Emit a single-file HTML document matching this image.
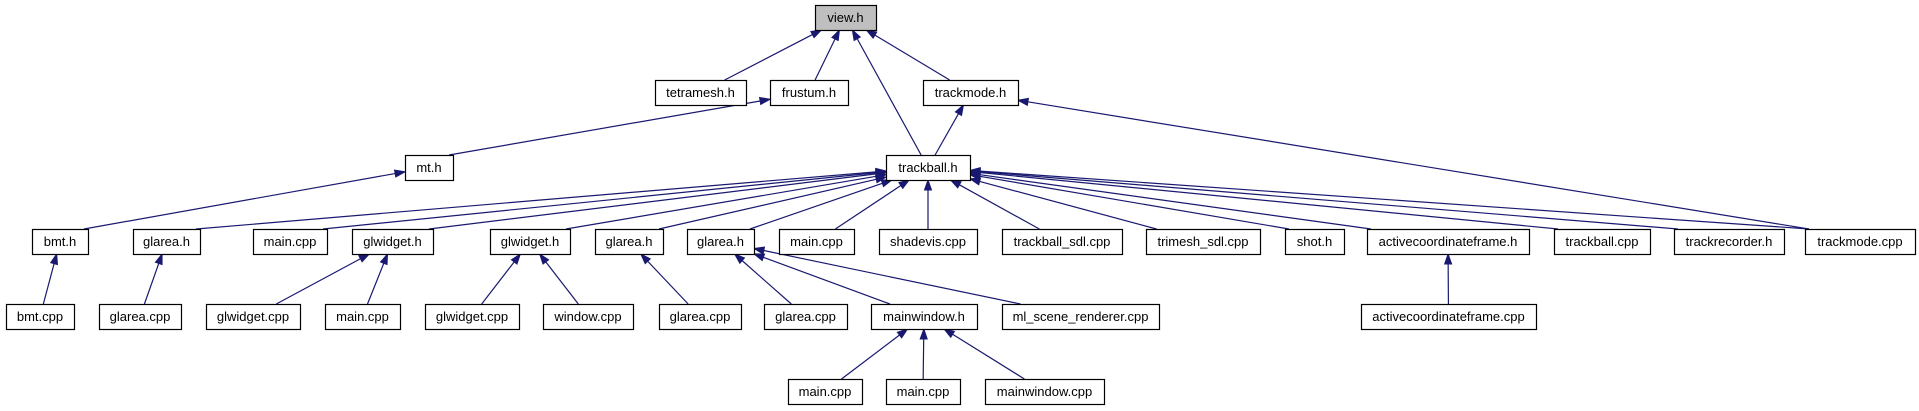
<!DOCTYPE html>
<html><head><meta charset="utf-8"><style>
html,body{margin:0;padding:0;background:#fff;width:1919px;height:411px;overflow:hidden}
svg{display:block}
text{font-family:"Liberation Sans",Arial,sans-serif;font-size:13px;fill:#000}
</style></head><body>
<svg id="g" width="1919" height="411" xmlns="http://www.w3.org/2000/svg"></svg>
<script>
var R=[5,80,155,229,304,379],H=25;
var N={
view:[815,876,0,"view.h",1],
tetra:[655,746,1,"tetramesh.h"],
frustum:[770,848,1,"frustum.h"],
tmh:[923,1018,1,"trackmode.h"],
mt:[405,453,2,"mt.h"],
tb:[886,970,2,"trackball.h"],
bmth:[32,88,3,"bmt.h"],
ga1:[133,200,3,"glarea.h"],
mc1:[253,327,3,"main.cpp"],
gw1:[352,433,3,"glwidget.h"],
gw2:[490,570,3,"glwidget.h"],
ga2:[595,663,3,"glarea.h"],
ga3:[687,754,3,"glarea.h"],
mc2:[779,854,3,"main.cpp"],
shade:[879,977,3,"shadevis.cpp"],
tsdl:[1002,1122,3,"trackball_sdl.cpp"],
trsdl:[1146,1260,3,"trimesh_sdl.cpp"],
shot:[1285,1344,3,"shot.h"],
acfh:[1367,1529,3,"activecoordinateframe.h"],
tbc:[1554,1650,3,"trackball.cpp"],
trec:[1674,1784,3,"trackrecorder.h"],
tmc:[1805,1915,3,"trackmode.cpp"],
bmtc:[6,74,4,"bmt.cpp"],
gac1:[99,181,4,"glarea.cpp"],
gwc1:[206,300,4,"glwidget.cpp"],
mc3:[325,400,4,"main.cpp"],
gwc2:[425,519,4,"glwidget.cpp"],
win:[543,633,4,"window.cpp"],
gac2:[659,741,4,"glarea.cpp"],
gac3:[764,847,4,"glarea.cpp"],
mwh:[871,977,4,"mainwindow.h"],
mlsr:[1002,1159,4,"ml_scene_renderer.cpp"],
acfc:[1361,1536,4,"activecoordinateframe.cpp"],
mc4:[788,862,5,"main.cpp"],
mc5:[886,960,5,"main.cpp"],
mwc:[985,1104,5,"mainwindow.cpp"]
};
var E=[["tetra","view"],["frustum","view"],["tb","view"],["tmh","view"],["mt","frustum"],["bmth","mt"],["tb","tmh"],["tmc","tmh"],
["ga1","tb"],["mc1","tb"],["gw1","tb"],["gw2","tb"],["ga2","tb"],["ga3","tb"],["mc2","tb"],["shade","tb"],["tsdl","tb"],["trsdl","tb"],["shot","tb"],["acfh","tb"],["tbc","tb"],["trec","tb"],["tmc","tb"],
["bmtc","bmth"],["gac1","ga1"],["gwc1","gw1"],["mc3","gw1"],["gwc2","gw2"],["win","gw2"],["gac2","ga2"],["gac3","ga3"],["mwh","ga3"],["mlsr","ga3"],["acfc","acfh"],["mc4","mwh"],["mc5","mwh"],["mwc","mwh"]];
function box(k){var n=N[k];return {x1:n[0],x2:n[1],y1:R[n[2]],y2:R[n[2]]+H,cx:(n[0]+n[1])/2,cy:R[n[2]]+H/2};}
function clip(b,dx,dy){var tx=dx?((b.x2-b.x1)/2)/Math.abs(dx):1e9,ty=dy?(H/2)/Math.abs(dy):1e9;return Math.min(tx,ty);}
var s='';
E.forEach(function(e){var c=box(e[0]),p=box(e[1]);
var dx=p.cx-c.cx,dy=p.cy-c.cy;
// start on child's top edge
var sy=c.y1,sx=c.cx+dx*(H/2)/Math.abs(dy);
sx=Math.max(c.x1+4,Math.min(c.x2-4,sx));
var ddx=p.cx-sx,ddy=p.cy-sy;
var t1=clip(p,-ddx,-ddy);
var ex=p.cx-ddx*t1,ey=p.cy-ddy*t1;
var L=Math.hypot(ex-sx,ey-sy),ux=(ex-sx)/L,uy=(ey-sy)/L;
var bx=ex-ux*10,by=ey-uy*10,nx=-uy*3.5,ny=ux*3.5;
s+='<line x1="'+sx+'" y1="'+sy+'" x2="'+bx+'" y2="'+by+'" stroke="#191970" stroke-width="1.2"/>';
s+='<polygon points="'+ex+','+ey+' '+(bx+nx)+','+(by+ny)+' '+(bx-nx)+','+(by-ny)+'" fill="#191970" stroke="#191970"/>';
});
for(var k in N){var b=box(k),n=N[k];
s+='<rect x="'+(b.x1+0.5)+'" y="'+(b.y1+0.5)+'" width="'+(b.x2-b.x1)+'" height="'+H+'" fill="'+(n[4]?'#bfbfbf':'#fff')+'" stroke="#000" stroke-width="1.2"/>';
s+='<text x="'+b.cx+'" y="'+(b.y1+17)+'" text-anchor="middle">'+n[3]+'</text>';}
document.getElementById('g').innerHTML=s;
</script>
</body></html>
